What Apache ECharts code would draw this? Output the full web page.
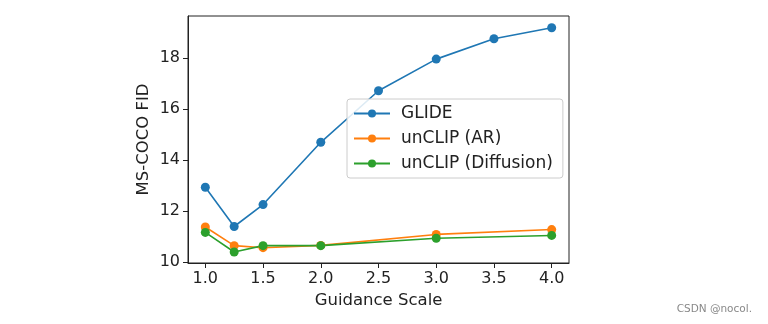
<!DOCTYPE html>
<html><head><meta charset="utf-8">
<script src="https://cdn.jsdelivr.net/npm/echarts@6/dist/echarts.min.js"></script>
<style>html,body{margin:0;padding:0;background:#fff}#c{width:768px;height:324px}</style>
</head><body><div id="c"></div>
<script>
const guidance = [1.0, 1.25, 1.5, 2.0, 2.5, 3.0, 3.5, 4.0];
const glide = [12.93, 11.39, 12.25, 14.69, 16.71, 17.95, 18.75, 19.18];
const arX = [1.0, 1.25, 1.5, 2.0, 3.0, 4.0];
const unclipAR = [11.37, 10.64, 10.56, 10.65, 11.08, 11.27];
const unclipDiff = [11.16, 10.39, 10.64, 10.64, 10.93, 11.04];
const xTicks = [1.0, 1.5, 2.0, 2.5, 3.0, 3.5, 4.0];
const yTicks = [10, 12, 14, 16, 18];

const font = 'DejaVu Sans';
const txt = '#222';
function pairs(xs, ys){ return xs.map((x,i)=>[x, ys[i]]); }
function ser(name, data, color){
  return {name, type:'line', data, symbol:'circle', symbolSize:9,
    lineStyle:{width:1.6, color}, itemStyle:{color}, color, z:2};
}
const chart = echarts.init(document.getElementById('c'), null, {renderer:'canvas'});
chart.setOption({
  animation:false,
  backgroundColor:'#fff',
  grid:{left:188, right:199, top:16, bottom:61, show:true, borderColor:'#222', borderWidth:1, backgroundColor:'transparent'},
  xAxis:{type:'value', min:0.85, max:4.15,
    name:'Guidance Scale', nameLocation:'middle', nameGap:25,
    nameTextStyle:{fontFamily:font, fontSize:16.5, color:txt},
    axisLine:{show:true, onZero:false, lineStyle:{color:'#222'}},
    axisTick:{show:true, length:5, customValues:xTicks, lineStyle:{color:'#222'}},
    axisLabel:{customValues:xTicks, margin:8, fontFamily:font, fontSize:16, color:txt, formatter:v=>v.toFixed(1)},
    splitLine:{show:false}},
  yAxis:{type:'value', min:9.96, max:19.64,
    name:'MS-COCO FID', nameLocation:'middle', nameGap:36, nameRotate:90,
    nameTextStyle:{fontFamily:font, fontSize:16.5, color:txt},
    axisLine:{show:true, onZero:false, lineStyle:{color:'#222'}},
    axisTick:{show:true, length:5, customValues:yTicks, lineStyle:{color:'#222'}},
    axisLabel:{customValues:yTicks, margin:8, fontFamily:font, fontSize:16, color:txt, formatter:v=>String(v)},
    splitLine:{show:false}},
  legend:{orient:'vertical', left:347, top:99, width:213, itemWidth:36, itemHeight:10,
    itemGap:8, padding:[6,10,6,6], borderColor:'#ccc', borderWidth:1, borderRadius:3,
    backgroundColor:'rgba(255,255,255,0.85)', z:10,
    textStyle:{fontFamily:font, fontSize:17, color:txt, padding:[0,0,0,6]},
    data:['GLIDE','unCLIP (AR)','unCLIP (Diffusion)']},
  graphic:[{type:'text', right:16, top:304, style:{text:'CSDN @nocol.', fontFamily:font, fontSize:10.5, fill:'#888'}}],
  series:[
    ser('GLIDE', pairs(guidance, glide), '#1f77b4'),
    ser('unCLIP (AR)', pairs(arX, unclipAR), '#ff7f0e'),
    ser('unCLIP (Diffusion)', pairs(arX, unclipDiff), '#2ca02c')
  ]
});
</script></body></html>
